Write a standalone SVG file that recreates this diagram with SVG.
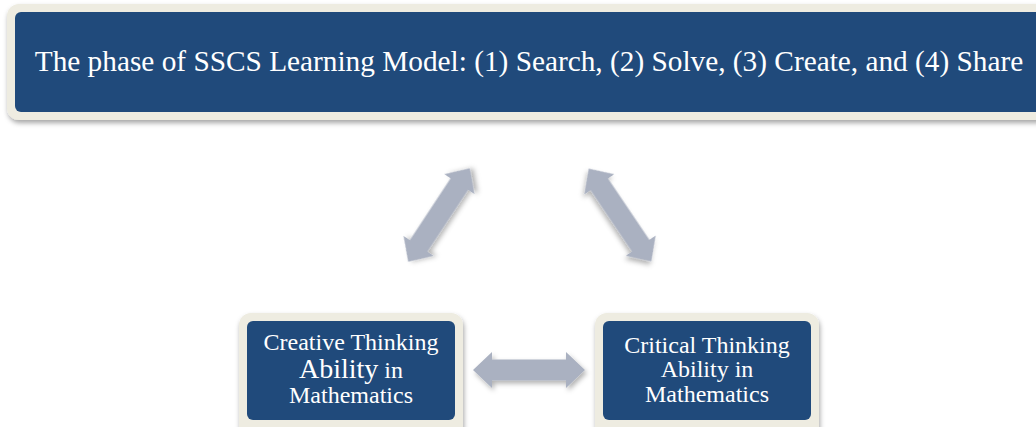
<svg xmlns="http://www.w3.org/2000/svg" width="1036" height="427" viewBox="0 0 1036 427">
<style>
.frame{fill:#EEECE1;filter:url(#sh)}
.inner{fill:#204A7B}
.t{font-family:"Liberation Serif","Times New Roman",serif;fill:#FFFFFF;text-anchor:middle}
.arrow{fill:#AAB1C1;filter:url(#ash)}
</style>
<defs>
<filter id="sh" x="-10%" y="-10%" width="120%" height="130%">
<feDropShadow dx="1" dy="3" stdDeviation="2.5" flood-color="#000" flood-opacity="0.35"/>
</filter>
<filter id="ash" x="-20%" y="-30%" width="140%" height="170%">
<feDropShadow dx="2" dy="3" stdDeviation="2.5" flood-color="#000" flood-opacity="0.3"/>
</filter>
<path id="dbl" d="M-56,0 L-37,-18 L-37,-10.5 L37,-10.5 L37,-18 L56,0 L37,18 L37,10.5 L-37,10.5 L-37,18 Z"/>
</defs>
<rect width="1036" height="427" fill="#FFFFFF"/>
<g id="top">
<rect class="frame" x="7" y="4" width="1045" height="116" rx="12"/>
<rect class="inner" x="15" y="12" width="1030" height="100" rx="6"/>
<text class="t" x="529" y="71" font-size="29.3">The phase of SSCS Learning Model: (1) Search, (2) Solve, (3) Create, and (4) Share</text>
</g>
<g id="creative">
<rect class="frame" x="239" y="313" width="224" height="130" rx="12"/>
<rect class="inner" x="247" y="321" width="208" height="99" rx="6"/>
<text class="t" x="351" y="350" font-size="24">Creative Thinking</text>
<text class="t" x="351" y="378" font-size="24"><tspan font-size="28">Ability</tspan> in</text>
<text class="t" x="351" y="403" font-size="24">Mathematics</text>
</g>
<g id="critical">
<rect class="frame" x="595" y="313" width="224" height="130" rx="12"/>
<rect class="inner" x="603" y="321" width="208" height="99" rx="6"/>
<text class="t" x="707" y="353" font-size="24">Critical Thinking</text>
<text class="t" x="707" y="377" font-size="24">Ability in</text>
<text class="t" x="707" y="402" font-size="24">Mathematics</text>
</g>
<g id="connectors">
<use href="#dbl" class="arrow" transform="translate(439,215) rotate(-56.6)"/>
<use href="#dbl" class="arrow" transform="translate(620,215) rotate(56)"/>
<use href="#dbl" class="arrow" transform="translate(529,370)"/>
</g>
</svg>
